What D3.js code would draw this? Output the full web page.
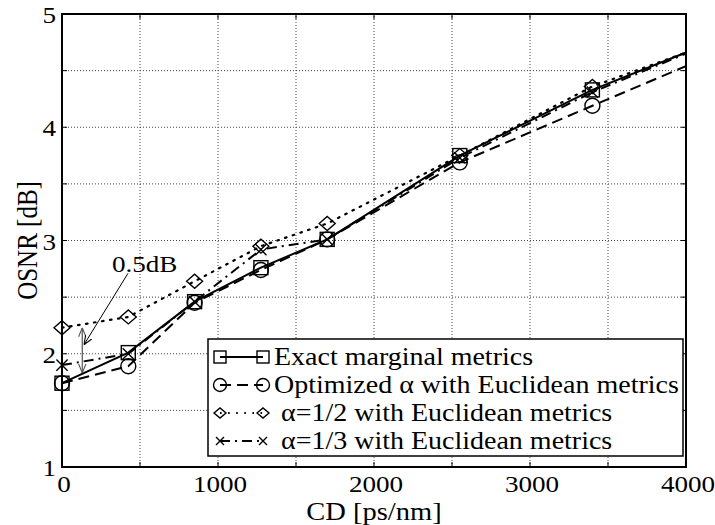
<!DOCTYPE html>
<html>
<head>
<meta charset="utf-8">
<script src="https://cdn.jsdelivr.net/npm/d3@7"></script>
<style>
  body { margin: 0; background: #fff; }
  svg { display: block; }
  text { font-family: "Liberation Serif", "Times New Roman", serif; fill: #000; }
</style>
</head>
<body>
<div id="chart"></div>
<script>
// CD points (ps/nm); markers drawn everywhere except the last point
const cd = [0, 425, 850, 1275, 1700, 2550, 3400, 4000];
const exactMarginal = [1.74, 2.01, 2.46, 2.76, 3.01, 3.75, 4.33, 4.66];
const optimizedAlpha = [1.74, 1.89, 2.45, 2.74, 3.01, 3.69, 4.19, 4.54];
const alphaHalf = [2.23, 2.325, 2.64, 2.95, 3.15, 3.75, 4.36, 4.66];
const alphaThird = [1.9, 2.0, 2.46, 2.92, 3.01, 3.73, 4.31, 4.65];

const seriesNames = [
    "Exact marginal metrics",
    "Optimized \u03b1 with Euclidean metrics",
    " \u03b1=1/2 with Euclidean metrics",
    " \u03b1=1/3 with Euclidean metrics"
];
const xTicks = [0, 1000, 2000, 3000, 4000];
const yTicks = [1, 2, 3, 4, 5];

const W = 715, H = 525;
const margin = { top: 14, left: 62, bottom: 58, right: 29 };
const width = W - margin.left - margin.right;
const height = H - margin.top - margin.bottom;

const svg = d3.select("#chart").append("svg")
    .attr("width", W)
    .attr("height", H);

const defs = svg.append("defs");
defs.append("marker")
    .attr("id", "head")
    .attr("viewBox", "0 0 10 10")
    .attr("refX", 10).attr("refY", 5)
    .attr("markerWidth", 9).attr("markerHeight", 9)
    .attr("markerUnits", "userSpaceOnUse")
    .attr("orient", "auto-start-reverse")
    .append("path")
    .attr("d", "M0,1 L10,5 L0,9")
    .attr("fill", "none")
    .attr("stroke", "context-stroke")
    .attr("stroke-width", 1.2);

const x = d3.scaleLinear().domain([0, 4000]).range([margin.left, margin.left + width]);
const y = d3.scaleLinear().domain([1, 5]).range([margin.top + height, margin.top]);

// grid
const grid = svg.append("g")
    .attr("stroke", "#444")
    .attr("stroke-width", 1)
    .attr("stroke-dasharray", "1,2");
grid.selectAll("line.vx")
    .data(d3.range(500, 4000, 500))
    .enter().append("line")
    .attr("x1", d => x(d)).attr("x2", d => x(d))
    .attr("y1", y(1)).attr("y2", y(5));
grid.selectAll("line.hy")
    .data(d3.range(1.5, 5, 0.5))
    .enter().append("line")
    .attr("x1", x(0)).attr("x2", x(4000))
    .attr("y1", d => y(d)).attr("y2", d => y(d));

// small inward ticks on every side
const ticks = svg.append("g").attr("stroke", "#000").attr("stroke-width", 1);
d3.range(500, 4000, 500).forEach(v => {
    ticks.append("line").attr("x1", x(v)).attr("x2", x(v)).attr("y1", y(1)).attr("y2", y(1) - 5);
    ticks.append("line").attr("x1", x(v)).attr("x2", x(v)).attr("y1", y(5)).attr("y2", y(5) + 5);
});
d3.range(1.5, 5, 0.5).forEach(v => {
    ticks.append("line").attr("x1", x(0)).attr("x2", x(0) + 5).attr("y1", y(v)).attr("y2", y(v));
    ticks.append("line").attr("x1", x(4000)).attr("x2", x(4000) - 5).attr("y1", y(v)).attr("y2", y(v));
});

// the reference text is a bit wider than plain Times, so stretch it horizontally
function label(g, px, py, str, size, anchor, rot, sx) {
    const t = g.append("g")
        .attr("transform", `translate(${px},${py}) scale(${sx || 1.13},1)` + (rot ? ` rotate(${rot})` : ""))
        .append("text")
        .attr("font-size", size)
        .attr("text-anchor", anchor || "start")
        .style("white-space", "pre")
        .text(str);
    return t;
}

const axisText = svg.append("g");
xTicks.forEach(v => label(axisText, x(v) + 2, y(1) + 25, String(v), 24, "middle"));
yTicks.forEach(v => label(axisText, x(0) - 6, y(v) + 9, String(v), 24, "end"));
label(axisText, x(2000), 520, "CD [ps/nm]", 25, "middle", null, 1.14);
label(axisText, 37, y(3), "OSNR [dB]", 25, "middle", -90, 1.2);

// series
const styles = [
    { dash: null, symbol: "square", width: 2 },
    { dash: "11,6", symbol: "circle", width: 2 },
    { dash: "1.6,6.5", symbol: "diamond", width: 2.2 },
    { dash: "10,5,2,5", symbol: "cross", width: 2 }
];
const seriesValues = [exactMarginal, optimizedAlpha, alphaHalf, alphaThird];
const series = seriesValues.map((vals, i) => ({
    name: seriesNames[i],
    style: styles[i],
    points: cd.map((c, j) => ({ cd: c, v: vals[j] }))
}));

const line = d3.line().x(d => x(d.cd)).y(d => y(d.v));

function drawSymbol(g, kind, px, py, s) {
    const a = g.append("g").attr("fill", "none").attr("stroke", "#000").attr("stroke-width", 1.4);
    if (kind === "square") {
        a.append("rect").attr("x", px - s).attr("y", py - s).attr("width", 2 * s).attr("height", 2 * s);
    } else if (kind === "circle") {
        a.append("circle").attr("cx", px).attr("cy", py).attr("r", s + 0.5);
    } else if (kind === "diamond") {
        a.append("path").attr("d", `M${px - s - 1},${py} L${px},${py - s} L${px + s + 1},${py} L${px},${py + s} Z`);
    } else {
        const c = s * 0.8;
        a.append("path").attr("d", `M${px - c},${py - c} L${px + c},${py + c} M${px - c},${py + c} L${px + c},${py - c}`);
    }
}

const plot = svg.append("g");
series.forEach(s => {
    plot.append("path")
        .datum(s.points)
        .attr("d", line)
        .attr("fill", "none")
        .attr("stroke", "#000")
        .attr("stroke-width", s.style.width)
        .attr("stroke-linecap", s.style.symbol === "diamond" ? "round" : "butt")
        .attr("stroke-dasharray", s.style.dash);
});
series.forEach(s => {
    s.points.filter(p => p.cd < 4000).forEach(p => drawSymbol(plot, s.style.symbol, x(p.cd), y(p.v), 7));
});

// frame
svg.append("rect")
    .attr("x", x(0)).attr("y", y(5))
    .attr("width", width).attr("height", height)
    .attr("fill", "none")
    .attr("stroke", "#000")
    .attr("stroke-width", 2);

// annotation: 0.5 dB gap at CD = 0
const ann = svg.append("g");
ann.append("line")
    .attr("x1", x(130)).attr("x2", x(130))
    .attr("y1", y(2.23)).attr("y2", y(1.83))
    .attr("stroke", "#555").attr("stroke-width", 1.2)
    .attr("marker-start", "url(#head)")
    .attr("marker-end", "url(#head)");
ann.append("line")
    .attr("x1", x(423)).attr("y1", y(2.71))
    .attr("x2", x(141)).attr("y2", y(2.08))
    .attr("stroke", "#000").attr("stroke-width", 1)
    .attr("marker-end", "url(#head)");
label(ann, x(320), y(2.72), "0.5dB", 24, "start");

// legend
const legend = svg.append("g");
const lx0 = 208, ly0 = 339, lw = 475, lh = 117;
const rowY = [357, 385, 413, 441];
legend.append("rect")
    .attr("x", lx0).attr("y", ly0).attr("width", lw).attr("height", lh)
    .attr("fill", "#fff").attr("stroke", "#000").attr("stroke-width", 1.5);
series.forEach((s, i) => {
    const ry = rowY[i];
    legend.append("line")
        .attr("x1", 220).attr("x2", 263)
        .attr("y1", ry).attr("y2", ry)
        .attr("stroke", "#000")
        .attr("stroke-width", 1.8)
        .attr("stroke-dasharray", s.style.dash);
    const sz = s.style.symbol === "diamond" || s.style.symbol === "cross" ? 5 : 6;
    drawSymbol(legend, s.style.symbol, 220, ry, sz);
    drawSymbol(legend, s.style.symbol, 263, ry, sz);
    label(legend, 274, ry + 8, s.name, 25, "start", null, 1.12);
});
</script>
</body>
</html>
